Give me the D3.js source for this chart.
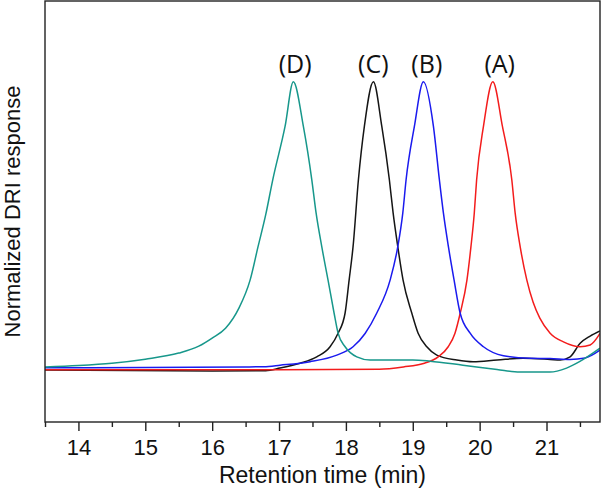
<!DOCTYPE html>
<html>
<head>
<meta charset="utf-8">
<script src="https://cdn.jsdelivr.net/npm/d3@7"></script>
<style>
  body { margin: 0; background: #fff; }
  svg { display: block; }
  .tick-label, .axis-title { font-family: "Liberation Sans", Arial, sans-serif; fill: #111; }
  .peak-label { font-family: "Open Sans", "Noto Sans", sans-serif; fill: #111; }
</style>
</head>
<body>
<div id="chart"></div>
<script>
// chromatogram traces, [retention time (min), normalized response]
var traceA = [
  [13.5, 0.001], [15.0, 0.001], [17.0, 0.001], [18.5, 0.003], [18.86, 0.011],
  [19.16, 0.023], [19.38, 0.046], [19.53, 0.081], [19.63, 0.127], [19.71, 0.198],
  [19.81, 0.312], [19.87, 0.428], [19.92, 0.545], [19.955, 0.66], [20.057, 0.845],
  [20.197, 1.0], [20.341, 0.845], [20.481, 0.66], [20.531, 0.545], [20.606, 0.428],
  [20.706, 0.312], [20.80, 0.235], [20.90, 0.18], [21.054, 0.128], [21.253, 0.098],
  [21.503, 0.081], [21.653, 0.087], [21.8, 0.127]
];
var traceB = [
  [13.5, 0.008], [15.0, 0.009], [16.5, 0.011], [16.77, 0.012], [17.015, 0.017],
  [17.464, 0.029], [17.864, 0.052], [18.107, 0.081], [18.287, 0.127], [18.462, 0.198],
  [18.661, 0.312], [18.776, 0.428], [18.851, 0.545], [18.90, 0.66], [19.024, 0.845],
  [19.159, 1.0], [19.309, 0.845], [19.398, 0.66], [19.458, 0.545], [19.533, 0.428],
  [19.618, 0.312], [19.708, 0.198], [19.858, 0.128], [20.057, 0.081], [20.356, 0.05],
  [20.755, 0.041], [21.054, 0.04], [21.353, 0.037], [21.578, 0.042], [21.8, 0.069]
];
var traceC = [
  [13.5, 0.0], [16.0, -0.003], [16.8, -0.002], [17.015, 0.007], [17.314, 0.024],
  [17.564, 0.046], [17.763, 0.081], [17.883, 0.128], [17.988, 0.198], [18.048, 0.312],
  [18.107, 0.428], [18.187, 0.66], [18.276, 0.845], [18.411, 1.0], [18.537, 0.845],
  [18.65, 0.66], [18.706, 0.545], [18.776, 0.428], [18.855, 0.312], [18.985, 0.198],
  [19.08, 0.128], [19.21, 0.081], [19.359, 0.052], [19.659, 0.035], [19.902, 0.029],
  [20.261, 0.035], [20.65, 0.041], [21.054, 0.037], [21.204, 0.035], [21.353, 0.046],
  [21.503, 0.093], [21.653, 0.118], [21.8, 0.136]
];
var traceD = [
  [13.5, 0.011], [14.0, 0.016], [14.5, 0.024], [15.0, 0.038], [15.5, 0.059],
  [15.8, 0.083], [16.0, 0.111], [16.2, 0.145], [16.4, 0.215], [16.567, 0.312],
  [16.686, 0.428], [16.8, 0.538], [16.906, 0.66], [17.09, 0.845], [17.214, 1.0],
  [17.364, 0.845], [17.49, 0.66], [17.554, 0.545], [17.639, 0.428], [17.733, 0.312],
  [17.823, 0.198], [17.883, 0.128], [17.988, 0.081], [18.163, 0.046], [18.362, 0.035],
  [19.0, 0.035], [19.26, 0.031], [19.75, 0.017], [20.26, 0.002], [20.6, -0.007],
  [21.05, -0.007], [21.3, 0.007], [21.5, 0.03], [21.8, 0.076]
];

var traces = [
  { name: 'C', color: '#151515', data: traceC },
  { name: 'A', color: '#f31c1c', data: traceA },
  { name: 'B', color: '#1a1aee', data: traceB },
  { name: 'D', color: '#17978b', data: traceD }
];

var peakLabels = ['(D)', '(C)', '(B)', '(A)'];
var peakLabelTimes = [17.24, 18.41, 19.21, 20.30];
var peakLabelLevel = 1.031;

var majorTicks = [14, 15, 16, 17, 18, 19, 20, 21];
var minorTicks = [13.5, 14.5, 15.5, 16.5, 17.5, 18.5, 19.5, 20.5, 21.5];

var width = 602, height = 491;
var margin = { top: 1, right: 2, bottom: 69, left: 45 };

var svg = d3.select('#chart').append('svg')
  .attr('width', width)
  .attr('height', height);

var x = d3.scaleLinear().domain([13.5, 21.8]).range([margin.left, width - margin.right]);
var y = d3.scaleLinear().domain([-0.18, 1.28]).range([height - margin.bottom, margin.top]);

// clip traces to the plot box
svg.append('clipPath').attr('id', 'plot-clip')
  .append('rect')
  .attr('x', x.range()[0]).attr('y', y.range()[1])
  .attr('width', x.range()[1] - x.range()[0])
  .attr('height', y.range()[0] - y.range()[1]);

var line = d3.line()
  .x(function(d) { return x(d[0]); })
  .y(function(d) { return y(d[1]); })
  .curve(d3.curveMonotoneX);

svg.append('g').attr('clip-path', 'url(#plot-clip)')
  .selectAll('path.trace')
  .data(traces)
  .enter()
  .append('path')
  .attr('class', 'trace')
  .attr('fill', 'none')
  .attr('stroke', function(d) { return d.color; })
  .attr('stroke-width', 1.5)
  .attr('d', function(d) { return line(d.data); });

// frame
svg.append('rect')
  .attr('x', x.range()[0]).attr('y', y.range()[1])
  .attr('width', x.range()[1] - x.range()[0])
  .attr('height', y.range()[0] - y.range()[1])
  .attr('fill', 'none')
  .attr('stroke', '#222')
  .attr('stroke-width', 1.4);

// bottom axis, major and minor ticks
var axisMajor = d3.axisBottom(x).tickValues(majorTicks).tickSize(9).tickFormat(d3.format('d'));
var axisMinor = d3.axisBottom(x).tickValues(minorTicks).tickSize(5).tickFormat('');

var gMinor = svg.append('g').attr('transform', 'translate(0,' + y.range()[0] + ')').call(axisMinor);
var gMajor = svg.append('g').attr('transform', 'translate(0,' + y.range()[0] + ')').call(axisMajor);
[gMinor, gMajor].forEach(function(g) {
  g.select('.domain').remove();
  g.selectAll('.tick line').attr('stroke', '#222').attr('stroke-width', 1.4);
});
gMajor.selectAll('.tick text')
  .attr('class', 'tick-label')
  .attr('y', 0)
  .attr('dy', 0)
  .attr('transform', 'translate(0,33)')
  .style('font-size', '22px');

svg.append('text')
  .attr('class', 'axis-title')
  .attr('x', (x.range()[0] + x.range()[1]) / 2)
  .attr('y', 483)
  .attr('text-anchor', 'middle')
  .style('font-size', '23px')
  .text('Retention time (min)');

svg.append('text')
  .attr('class', 'axis-title')
  .attr('transform', 'translate(20,' + (y.range()[0] + y.range()[1]) / 2 + ') rotate(-90)')
  .attr('text-anchor', 'middle')
  .style('font-size', '22px')
  .text('Normalized DRI response');

// peak labels
svg.selectAll('text.peak-label')
  .data(peakLabels)
  .enter()
  .append('text')
  .attr('class', 'peak-label')
  .attr('x', function(d, i) { return x(peakLabelTimes[i]); })
  .attr('y', y(peakLabelLevel))
  .attr('text-anchor', 'middle')
  .style('font-size', '25px')
  .text(function(d) { return d; });
</script>
</body>
</html>
